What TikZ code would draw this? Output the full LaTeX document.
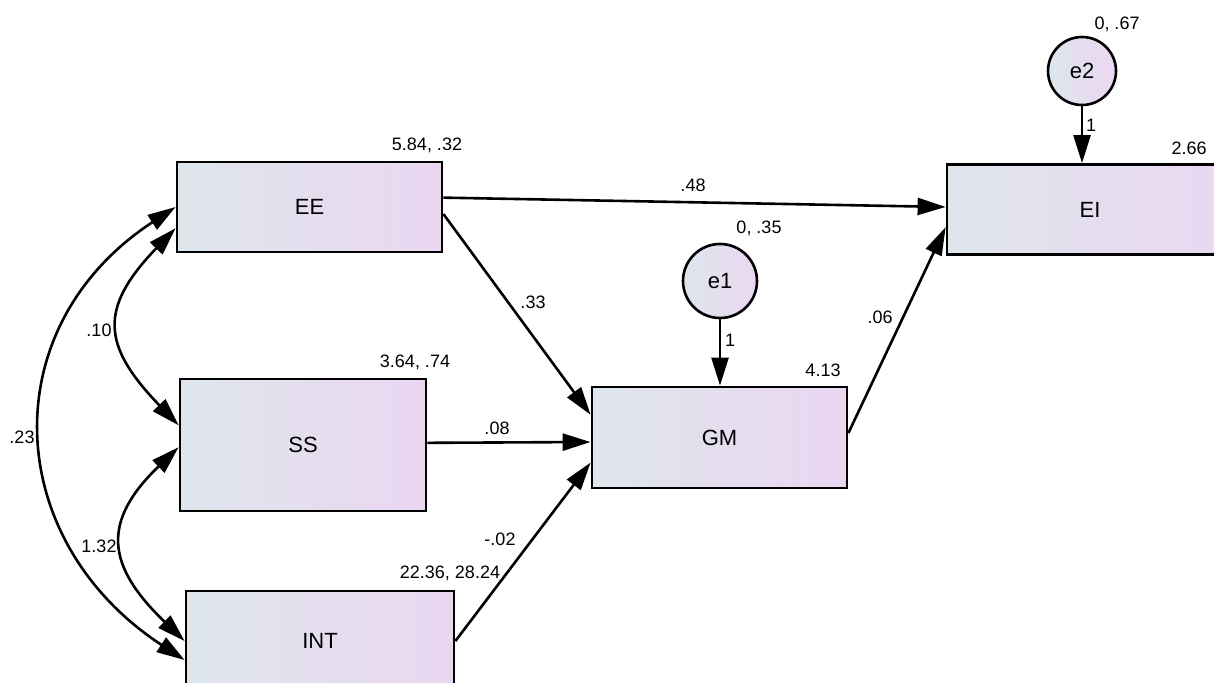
\documentclass[tikz,border=0pt]{standalone}
\usepackage{fontspec}
\setmainfont{Liberation Sans}
\usetikzlibrary{arrows.meta}
\definecolor{varleft}{RGB}{222,230,236}
\definecolor{varright}{RGB}{235,214,242}

\begin{document}
\begin{tikzpicture}[x=1pt,y=-1pt,
    obs/.style 2 args={draw,line width=2.8pt,left color=varleft,right color=varright,
        minimum width=#1,minimum height=#2,inner sep=0pt,font=\fontsize{22}{25}\selectfont},
    err/.style={draw,circle,line width=2.6pt,left color=varleft,right color=varright,
        minimum size=#1,inner sep=0pt,font=\fontsize{22}{25}\selectfont},
    val/.style={font=\fontsize{18}{20}\selectfont,inner sep=0pt},
    path/.style={line width=2.6pt,-{Triangle[length=28pt,width=17pt]}},
    cov/.style={line width=2.6pt,{Triangle[length=28pt,width=17pt]}-{Triangle[length=28pt,width=17pt]}}]
        \clip (0,0) rectangle (1214,682);
        \node[obs={265}{90}] (EE) at (309.5,207) {EE};
        \node[obs={246}{132}] (SS) at (303,445) {SS};
        \node[obs={268}{100}] (INT) at (320,641) {INT};
        \node[obs={255}{101}] (GM) at (719.5,437.5) {GM};
        \node[obs={286}{90}] (EI) at (1090,209.5) {EI};
        \node[err=74] (e1) at (720,281) {e1};
        \node[err=68] (e2) at (1082,71) {e2};
        \draw[path] (EE.4.3) -- (EI.179);
        \draw[path] (EE.357.4) -- (GM.170.9);
        \draw[path] (SS.1) -- (GM.182.5);
        \draw[path] (INT.0) -- (GM.191.7);
        \draw[path] (GM.2) -- (EI.187.4);
        \draw[path] (e1.south) -- (e1.south |- GM.north);
        \draw[path] (e2.south) -- (e2.south |- EI.north);
        \draw[cov] (EE.189.8) .. controls +(-77,80) and +(-77,-80) .. (SS.171.7);
        \draw[cov] (SS.181) .. controls +(-78,75) and +(-78,-75) .. (INT.180);
        \draw[cov] (EE.180) .. controls +(-183,120) and +(-183,-120) .. (INT.188);
        \node[val] (vEE) at (427,145) {5.84, .32};
        \node[val] (vSS) at (415,362) {3.64, .74};
        \node[val] (vINT) at (450,573) {22.36, 28.24};
        \node[val] (vGM) at (823,370) {4.13};
        \node[val] (vEI) at (1189,148) {2.66};
        \node[val] (ve1) at (759,228) {0, .35};
        \node[val] (ve2) at (1117,24) {0, .67};
        \node[val] (wEEEI) at (693,185) {.48};
        \node[val] (wEEGM) at (533,302) {.33};
        \node[val] (wSSGM) at (497,428) {.08};
        \node[val] (wINTGM) at (500,539) {-.02};
        \node[val] (wGMEI) at (880,317) {.06};
        \node[val] (we1) at (730,340) {1};
        \node[val] (we2) at (1091,125) {1};
        \node[val] (cEESS) at (99,330) {.10};
        \node[val] (cSSINT) at (99,546) {1.32};
        \node[val] (cEEINT) at (22,437) {.23};
    \end{tikzpicture}
\end{document}
